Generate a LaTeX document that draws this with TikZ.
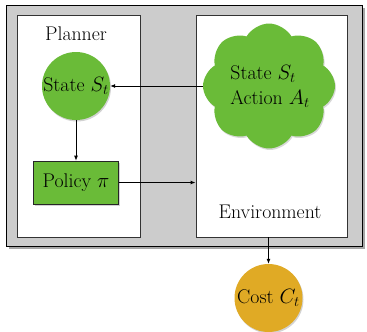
\documentclass[tikz,border=0pt]{standalone}
\usetikzlibrary{shapes.symbols,shadows,arrows.meta}
\definecolor{leafgreen}{RGB}{106,187,56}
\definecolor{costgold}{RGB}{224,170,37}
\begin{document}
\begin{tikzpicture}[x=1pt,y=-1pt,
  every node/.style={font=\fontsize{19.8}{25}\selectfont},
  arr/.style={-{Latex[length=5pt,width=4pt]},line width=0.8pt},
  panel/.style={draw=black!80,line width=0.8pt,fill=white},
  ball/.style={circle,fill=#1,minimum size=68pt,inner sep=0pt,
    drop shadow={opacity=0.35,shadow xshift=1pt,shadow yshift=-1.5pt}},
  card/.style={draw=black!85,line width=0.8pt,fill=leafgreen,minimum width=85pt,minimum height=43pt,
    drop shadow={opacity=0.35,shadow xshift=1pt,shadow yshift=-1.5pt}}]
\useasboundingbox (0,0) rectangle (367,332);
% outer frame
\node[draw=black,line width=1.2pt,fill=black!20,minimum width=356pt,minimum height=241pt,inner sep=0pt,
  drop shadow={opacity=0.7,shadow xshift=2.5pt,shadow yshift=-2.5pt}] (frame) at (184.5,126) {};
% planner and environment panels
\node[panel,minimum width=123pt,minimum height=222pt,inner sep=0pt] (planner) at (79,126) {};
\node[panel,minimum width=151pt,minimum height=222pt,inner sep=0pt] (env) at (271.5,126) {};
\node (plannerlbl) at (76,34) {Planner};
\node (envlbl) at (270,212) {Environment};
% nodes
\node[ball=leafgreen] (state) at (76,86) {State $S_t$};
\node[card] (policy) at (76,182.5) {Policy $\pi$};
\node[cloud,cloud puffs=8,cloud puff arc=120,aspect=1,shape border rotate=22.5,fill=leafgreen,minimum width=132pt,minimum height=125pt,inner sep=0pt,
  drop shadow={opacity=0.3,shadow xshift=1pt,shadow yshift=-1.5pt}] (cloud) at (269,86) {};
\node[align=left] (cloudtxt) at (270,86) {State $S_t$\\Action $A_t$};
\node[ball=costgold] (cost) at (268.5,298) {Cost $C_t$};
% connectors
\draw[arr] (cloud.west) -- (state.east);
\draw[arr] (state.south) -- (policy.north);
\draw[arr,line width=1.2pt] (policy.east) -- (policy.east -| env.west);
\draw[arr] (env.south -| cost.north) -- (cost.north);
\end{tikzpicture}
\end{document}
